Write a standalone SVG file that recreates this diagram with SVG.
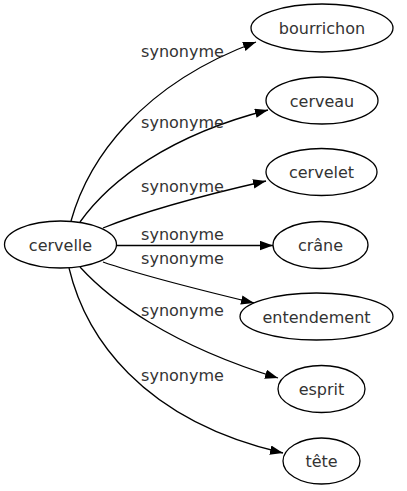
<svg xmlns="http://www.w3.org/2000/svg" width="407" height="491" viewBox="0 0 407 491">
<style>
text{font-family:"DejaVu Sans","Open Sans",sans-serif;font-size:16px;fill:#333;text-anchor:middle}
.node ellipse{fill:#fff;stroke:#000;stroke-width:1.3}
.edge path{fill:none;stroke:#000;stroke-width:1.3}
</style>
<defs>
<marker id="arr" markerUnits="userSpaceOnUse" markerWidth="14" markerHeight="10" refX="13" refY="4.7" orient="auto">
<path d="M0,0 L13,4.7 L0,9.4 z" fill="#000"/>
</marker>
</defs>
<rect width="407" height="491" fill="#fff"/>
<g id="edges" class="edge">
<path d="M71,221 C88,160 140,85 256,42" marker-end="url(#arr)"/>
<path d="M80,222 C110,180 170,135 268,110" marker-end="url(#arr)"/>
<path d="M103,228 C140,213 200,196 266,181" marker-end="url(#arr)"/>
<path d="M117,245.5 L273,245.5" marker-end="url(#arr)"/>
<path d="M103,262 C140,275 200,290 254,303" marker-end="url(#arr)"/>
<path d="M80,267 C110,300 170,345 278,378" marker-end="url(#arr)"/>
<path d="M69,268 C85,335 140,420 283,453" marker-end="url(#arr)"/>
<text x="182.5" y="57">synonyme</text>
<text x="182.5" y="128">synonyme</text>
<text x="182.5" y="192">synonyme</text>
<text x="182.5" y="240">synonyme</text>
<text x="182.5" y="264">synonyme</text>
<text x="182.5" y="316">synonyme</text>
<text x="182.5" y="381">synonyme</text>
</g>
<g id="cervelle" class="node"><ellipse cx="60.5" cy="244.5" rx="56" ry="23.5"/><text x="60.5" y="250.5">cervelle</text></g>
<g id="bourrichon" class="node"><ellipse cx="322" cy="28" rx="71" ry="24"/><text x="322" y="34">bourrichon</text></g>
<g id="cerveau" class="node"><ellipse cx="322" cy="100.5" rx="56" ry="23.5"/><text x="322" y="106.5">cerveau</text></g>
<g id="cervelet" class="node"><ellipse cx="321.5" cy="172" rx="55.5" ry="23.5"/><text x="321.5" y="178">cervelet</text></g>
<g id="crane" class="node"><ellipse cx="320.5" cy="245" rx="47.5" ry="23.5"/><text x="320.5" y="251">crâne</text></g>
<g id="entendement" class="node"><ellipse cx="316.5" cy="316.5" rx="76.5" ry="23.5"/><text x="316.5" y="322.5">entendement</text></g>
<g id="esprit" class="node"><ellipse cx="321.5" cy="389" rx="43.5" ry="23.5"/><text x="321.5" y="395">esprit</text></g>
<g id="tete" class="node"><ellipse cx="321.5" cy="461" rx="38.5" ry="23"/><text x="321.5" y="467">tête</text></g>
</svg>
